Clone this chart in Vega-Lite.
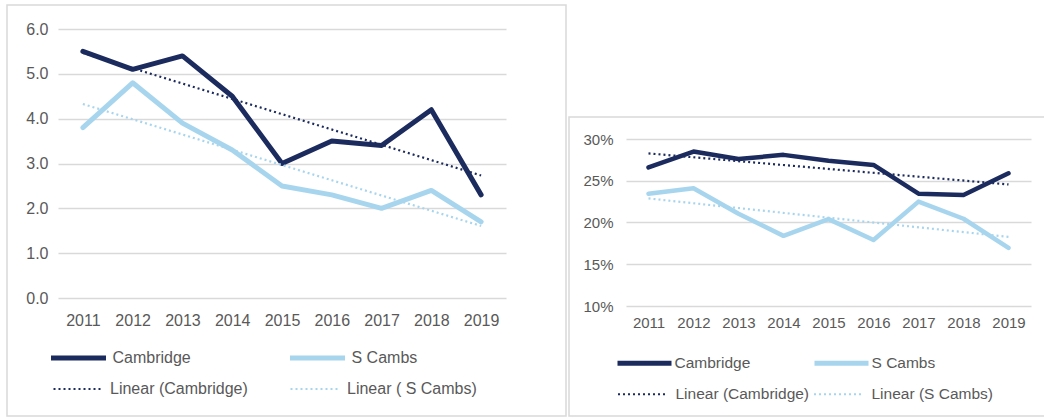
{
  "$schema": "https://vega.github.io/schema/vega-lite/v6.json",
  "padding": {"left": 6, "top": 4, "right": 0, "bottom": 0},
  "spacing": 1,
  "background": "white",
  "config": {
    "font": "Liberation Sans",
    "axis": {"labelColor": "#595959", "labelFont": "Liberation Sans", "domain": false, "ticks": false, "title": null, "gridColor": "#d9d9d9", "gridWidth": 1.5, "labelOverlap": false},
    "legend": {"labelColor": "#595959", "labelFont": "Liberation Sans", "title": null, "orient": "none", "direction": "horizontal", "columns": 2, "symbolType": "stroke", "clipHeight": 16, "padding": 0, "labelLimit": 300}
  },
  "resolve": {"scale": {"color": "independent", "stroke": "independent"}, "legend": {"color": "independent", "stroke": "independent"}},
  "hconcat": [
    {
      "width": 559,
      "height": 411,
      "view": {"stroke": "#d9d9d9", "strokeWidth": 1.5},
      "data": {"values": [
        {"year": 2011, "series": "Cambridge", "trend": "Linear (Cambridge)", "value": 5.5},
        {"year": 2012, "series": "Cambridge", "trend": "Linear (Cambridge)", "value": 5.1},
        {"year": 2013, "series": "Cambridge", "trend": "Linear (Cambridge)", "value": 5.4},
        {"year": 2014, "series": "Cambridge", "trend": "Linear (Cambridge)", "value": 4.5},
        {"year": 2015, "series": "Cambridge", "trend": "Linear (Cambridge)", "value": 3.0},
        {"year": 2016, "series": "Cambridge", "trend": "Linear (Cambridge)", "value": 3.5},
        {"year": 2017, "series": "Cambridge", "trend": "Linear (Cambridge)", "value": 3.4},
        {"year": 2018, "series": "Cambridge", "trend": "Linear (Cambridge)", "value": 4.2},
        {"year": 2019, "series": "Cambridge", "trend": "Linear (Cambridge)", "value": 2.3},
        {"year": 2011, "series": "S Cambs", "trend": "Linear ( S Cambs)", "value": 3.8},
        {"year": 2012, "series": "S Cambs", "trend": "Linear ( S Cambs)", "value": 4.8},
        {"year": 2013, "series": "S Cambs", "trend": "Linear ( S Cambs)", "value": 3.9},
        {"year": 2014, "series": "S Cambs", "trend": "Linear ( S Cambs)", "value": 3.3},
        {"year": 2015, "series": "S Cambs", "trend": "Linear ( S Cambs)", "value": 2.5},
        {"year": 2016, "series": "S Cambs", "trend": "Linear ( S Cambs)", "value": 2.3},
        {"year": 2017, "series": "S Cambs", "trend": "Linear ( S Cambs)", "value": 2.0},
        {"year": 2018, "series": "S Cambs", "trend": "Linear ( S Cambs)", "value": 2.4},
        {"year": 2019, "series": "S Cambs", "trend": "Linear ( S Cambs)", "value": 1.7}
      ]},
      "encoding": {
        "x": {"field": "year", "type": "ordinal", "scale": {"type": "point", "range": [51, 499], "padding": 0.5}, "axis": {"labelAngle": 0, "labelFontSize": 16, "labelPadding": 14, "offset": -118, "grid": false}},
        "y": {"field": "value", "type": "quantitative", "scale": {"domain": [0, 6], "range": [293, 24], "nice": false}, "axis": {"values": [0, 1, 2, 3, 4, 5, 6], "format": ".1f", "labelFontSize": 16, "labelPadding": 10, "offset": -51, "grid": true}}
      },
      "layer": [
        {
          "mark": {"type": "line", "strokeWidth": 5, "strokeJoin": "round", "strokeCap": "round"},
          "encoding": {
            "color": {"field": "series", "type": "nominal",
              "scale": {"domain": ["Cambridge", "S Cambs"], "range": ["#1c2b5e", "#a8d5ee"]},
              "legend": {"legendX": 41.5, "legendY": 345, "symbolSize": 3025, "symbolStrokeWidth": 5, "labelFontSize": 16, "labelOffset": 4, "columnPadding": 96}
            }
          }
        },
        {
          "transform": [{"regression": "value", "on": "year", "groupby": ["trend"]}],
          "mark": {"type": "line", "strokeWidth": 2.2, "strokeDash": [2, 3]},
          "encoding": {
            "stroke": {"field": "trend", "type": "nominal",
              "scale": {"domain": ["Linear (Cambridge)", "Linear ( S Cambs)"], "range": ["#1c2b5e", "#a8d5ee"]},
              "legend": {"legendX": 45, "legendY": 376, "symbolSize": 2304, "symbolStrokeWidth": 2.2, "symbolDash": [2, 3], "labelFontSize": 16, "labelOffset": 7, "columnPadding": 41}
            }
          }
        }
      ]
    },
    {
      "spacing": 0,
      "vconcat": [
        {
          "width": 1,
          "height": 111,
          "view": {"stroke": null},
          "data": {"values": []},
          "mark": "point"
        },
        {
          "width": 476,
          "height": 299,
          "view": {"stroke": "#d9d9d9", "strokeWidth": 1.5},
          "data": {"values": [
            {"year": 2011, "series": "Cambridge", "trend": "Linear (Cambridge)", "value": 0.266},
            {"year": 2012, "series": "Cambridge", "trend": "Linear (Cambridge)", "value": 0.285},
            {"year": 2013, "series": "Cambridge", "trend": "Linear (Cambridge)", "value": 0.276},
            {"year": 2014, "series": "Cambridge", "trend": "Linear (Cambridge)", "value": 0.281},
            {"year": 2015, "series": "Cambridge", "trend": "Linear (Cambridge)", "value": 0.274},
            {"year": 2016, "series": "Cambridge", "trend": "Linear (Cambridge)", "value": 0.269},
            {"year": 2017, "series": "Cambridge", "trend": "Linear (Cambridge)", "value": 0.2345},
            {"year": 2018, "series": "Cambridge", "trend": "Linear (Cambridge)", "value": 0.233},
            {"year": 2019, "series": "Cambridge", "trend": "Linear (Cambridge)", "value": 0.259},
            {"year": 2011, "series": "S Cambs", "trend": "Linear (S Cambs)", "value": 0.2345},
            {"year": 2012, "series": "S Cambs", "trend": "Linear (S Cambs)", "value": 0.241},
            {"year": 2013, "series": "S Cambs", "trend": "Linear (S Cambs)", "value": 0.2105},
            {"year": 2014, "series": "S Cambs", "trend": "Linear (S Cambs)", "value": 0.184},
            {"year": 2015, "series": "S Cambs", "trend": "Linear (S Cambs)", "value": 0.204},
            {"year": 2016, "series": "S Cambs", "trend": "Linear (S Cambs)", "value": 0.179},
            {"year": 2017, "series": "S Cambs", "trend": "Linear (S Cambs)", "value": 0.225},
            {"year": 2018, "series": "S Cambs", "trend": "Linear (S Cambs)", "value": 0.2045},
            {"year": 2019, "series": "S Cambs", "trend": "Linear (S Cambs)", "value": 0.1695}
          ]},
          "encoding": {
            "x": {"field": "year", "type": "ordinal", "scale": {"type": "point", "range": [57, 462], "padding": 0.5}, "axis": {"labelAngle": 0, "labelFontSize": 15, "labelPadding": 9, "offset": -110, "grid": false}},
            "y": {"field": "value", "type": "quantitative", "scale": {"domain": [0.1, 0.3], "range": [189, 22], "nice": false, "zero": false}, "axis": {"values": [0.1, 0.15, 0.2, 0.25, 0.3], "format": ".0%", "labelFontSize": 15, "labelPadding": 13, "offset": -57, "grid": true}}
          },
          "layer": [
            {
              "mark": {"type": "line", "strokeWidth": 4.5, "strokeJoin": "round", "strokeCap": "round"},
              "encoding": {
                "color": {"field": "series", "type": "nominal",
                  "scale": {"domain": ["Cambridge", "S Cambs"], "range": ["#1c2b5e", "#a8d5ee"]},
                  "legend": {"legendX": 46, "legendY": 350, "symbolSize": 2916, "symbolStrokeWidth": 5, "labelFontSize": 15.5, "labelOffset": 0.5, "columnPadding": 61}
                }
              }
            },
            {
              "transform": [{"regression": "value", "on": "year", "groupby": ["trend"]}],
              "mark": {"type": "line", "strokeWidth": 2.2, "strokeDash": [2, 3]},
              "encoding": {
                "stroke": {"field": "trend", "type": "nominal",
                  "scale": {"domain": ["Linear (Cambridge)", "Linear (S Cambs)"], "range": ["#1c2b5e", "#a8d5ee"]},
                  "legend": {"legendX": 47.5, "legendY": 381, "symbolSize": 2401, "symbolStrokeWidth": 2.2, "symbolDash": [2, 3], "labelFontSize": 15.5, "labelOffset": 7, "columnPadding": 3}
                }
              }
            }
          ]
        }
      ]
    }
  ]
}
